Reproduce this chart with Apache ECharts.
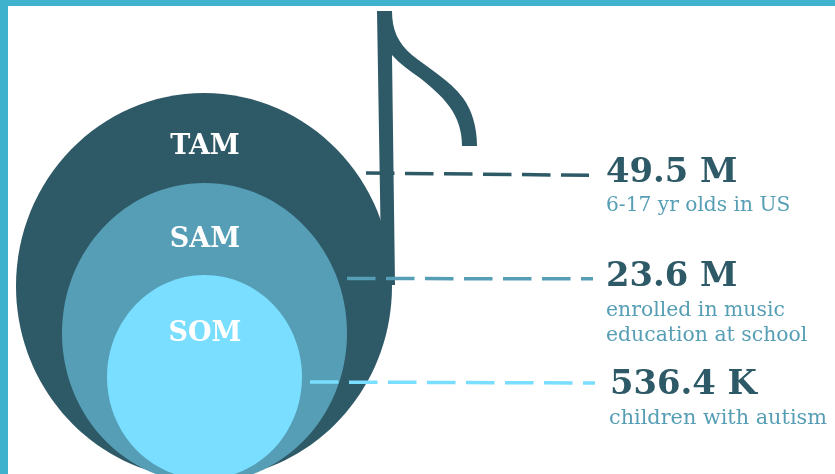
<!DOCTYPE html>
<html>
<head>
<meta charset="utf-8">
<style>html,body{margin:0;padding:0;background:#fff;overflow:hidden}#c{width:835px;height:474px}</style>
<script src="https://cdn.jsdelivr.net/npm/echarts@6/dist/echarts.min.js"></script>
</head>
<body>
<div id="c"></div>
<script>
// Market tiers, largest first
const tiers = ['TAM', 'SAM', 'SOM'];
const amounts = ['49.5 M', '23.6 M', '536.4 K'];
const notes = ['6-17 yr olds in US', 'enrolled in music\neducation at school', 'children with autism'];

const DARK = '#2e5966', MID = '#569eb5', LIGHT = '#79deff', FRAME = '#3fb2cd';
const SERIF = '"DejaVu Serif", serif';

// Layout of the nested-ellipse note, in page units
const ellipses = [
  { cx: 204, cy: 286, rx: 188, ry: 193, fill: DARK },
  { cx: 204.5, cy: 333, rx: 142.5, ry: 150, fill: MID },
  { cx: 204.5, cy: 377, rx: 97.5, ry: 102, fill: LIGHT }
];
const tierLabelY = [147, 240, 334];
const leaders = [
  { from: [366, 173], to: [589, 175.3], color: DARK },
  { from: [347, 278.5], to: [593, 278.8], color: MID },
  { from: [310, 382], to: [595, 383], color: LIGHT }
];
const DASH = 28.5, GAP = 10.5;
const amountPos = [[606, 173], [606, 277], [610, 385]];
const notePos = [[606, 206], [606, 323.5], [609, 419]];
const noteSize = [20.2, 20.4, 20.8];

const stem = [[377, 11], [392, 11], [392, 55], [395, 285], [381.5, 285]];
const flagPath =
  'M392 11 C392 30 398 43 412 55 C425 66 450 80 463 98 C472 110 477 127 477 146 ' +
  'L462 146 C462 131 458 118 449 106 C441 95 430 86 420 78 C410 71 400 64 392 55 Z';

function ellipseItem(params, api) {
  const e = ellipses[params.dataIndex];
  const c = api.coord([e.cx, e.cy]);
  return {
    type: 'ellipse',
    shape: { cx: c[0], cy: c[1], rx: e.rx, ry: e.ry },
    style: { fill: e.fill }
  };
}

function noteShapeItem(params, api) {
  return {
    type: 'group',
    children: [
      {
        type: 'polygon',
        shape: { points: stem.map(p => api.coord(p)) },
        style: { fill: DARK }
      },
      {
        type: 'path',
        shape: { pathData: flagPath, x: 392, y: 11, width: 85, height: 135 },
        style: { fill: DARK }
      }
    ]
  };
}

// Each leader is a run of separate short strokes
function leaderItem(params, api) {
  const l = leaders[params.dataIndex];
  const a = api.coord(l.from), b = api.coord(l.to);
  const len = Math.hypot(b[0] - a[0], b[1] - a[1]);
  const ux = (b[0] - a[0]) / len, uy = (b[1] - a[1]) / len;
  const children = [];
  for (let s = 0; s < len; s += DASH + GAP) {
    const e = Math.min(s + DASH, len);
    children.push({
      type: 'line',
      shape: { x1: a[0] + ux * s, y1: a[1] + uy * s, x2: a[0] + ux * e, y2: a[1] + uy * e },
      style: { stroke: l.color, lineWidth: 3.5, lineCap: 'butt' }
    });
  }
  return { type: 'group', children };
}

function textItem(params, api) {
  const i = params.dataIndex;
  const label = api.coord([205, tierLabelY[i]]);
  const amount = api.coord(amountPos[i]);
  const note = api.coord(notePos[i]);
  return {
    type: 'group',
    children: [
      { type: 'text', x: label[0], y: label[1], style: { text: tiers[i], fill: '#fff', font: 'bold 27px ' + SERIF, align: 'center', verticalAlign: 'middle' } },
      { type: 'text', x: amount[0], y: amount[1], style: { text: amounts[i], fill: DARK, font: 'bold 33.8px ' + SERIF, align: 'left', verticalAlign: 'middle' } },
      { type: 'text', x: note[0], y: note[1], style: { text: notes[i], fill: MID, font: noteSize[i] + 'px ' + SERIF, lineHeight: 25, align: 'left', verticalAlign: 'middle' } }
    ]
  };
}

const hiddenAxis = { show: false, min: 0, splitLine: { show: false } };
const tierIndex = tiers.map((t, i) => i);

const chart = echarts.init(document.getElementById('c'), null, { renderer: 'canvas', width: 835, height: 474 });
chart.setOption({
  animation: false,
  backgroundColor: '#fff',
  grid: { left: 0, right: 0, top: 0, bottom: 0 },
  xAxis: { ...hiddenAxis, type: 'value', max: 835 },
  yAxis: { ...hiddenAxis, type: 'value', max: 474, inverse: true },
  graphic: [
    { type: 'rect', shape: { x: 0, y: 0, width: 835, height: 6 }, style: { fill: FRAME }, z: 10 },
    { type: 'rect', shape: { x: 0, y: 0, width: 8, height: 474 }, style: { fill: FRAME }, z: 10 }
  ],
  series: [
    { type: 'custom', coordinateSystem: 'cartesian2d', renderItem: noteShapeItem, data: [0], z: 1, silent: true },
    { type: 'custom', coordinateSystem: 'cartesian2d', renderItem: ellipseItem, data: tierIndex, z: 2, silent: true },
    { type: 'custom', coordinateSystem: 'cartesian2d', renderItem: leaderItem, data: tierIndex, z: 3, silent: true },
    { type: 'custom', coordinateSystem: 'cartesian2d', renderItem: textItem, data: tierIndex, z: 4, silent: true }
  ]
});
</script>
</body>
</html>
